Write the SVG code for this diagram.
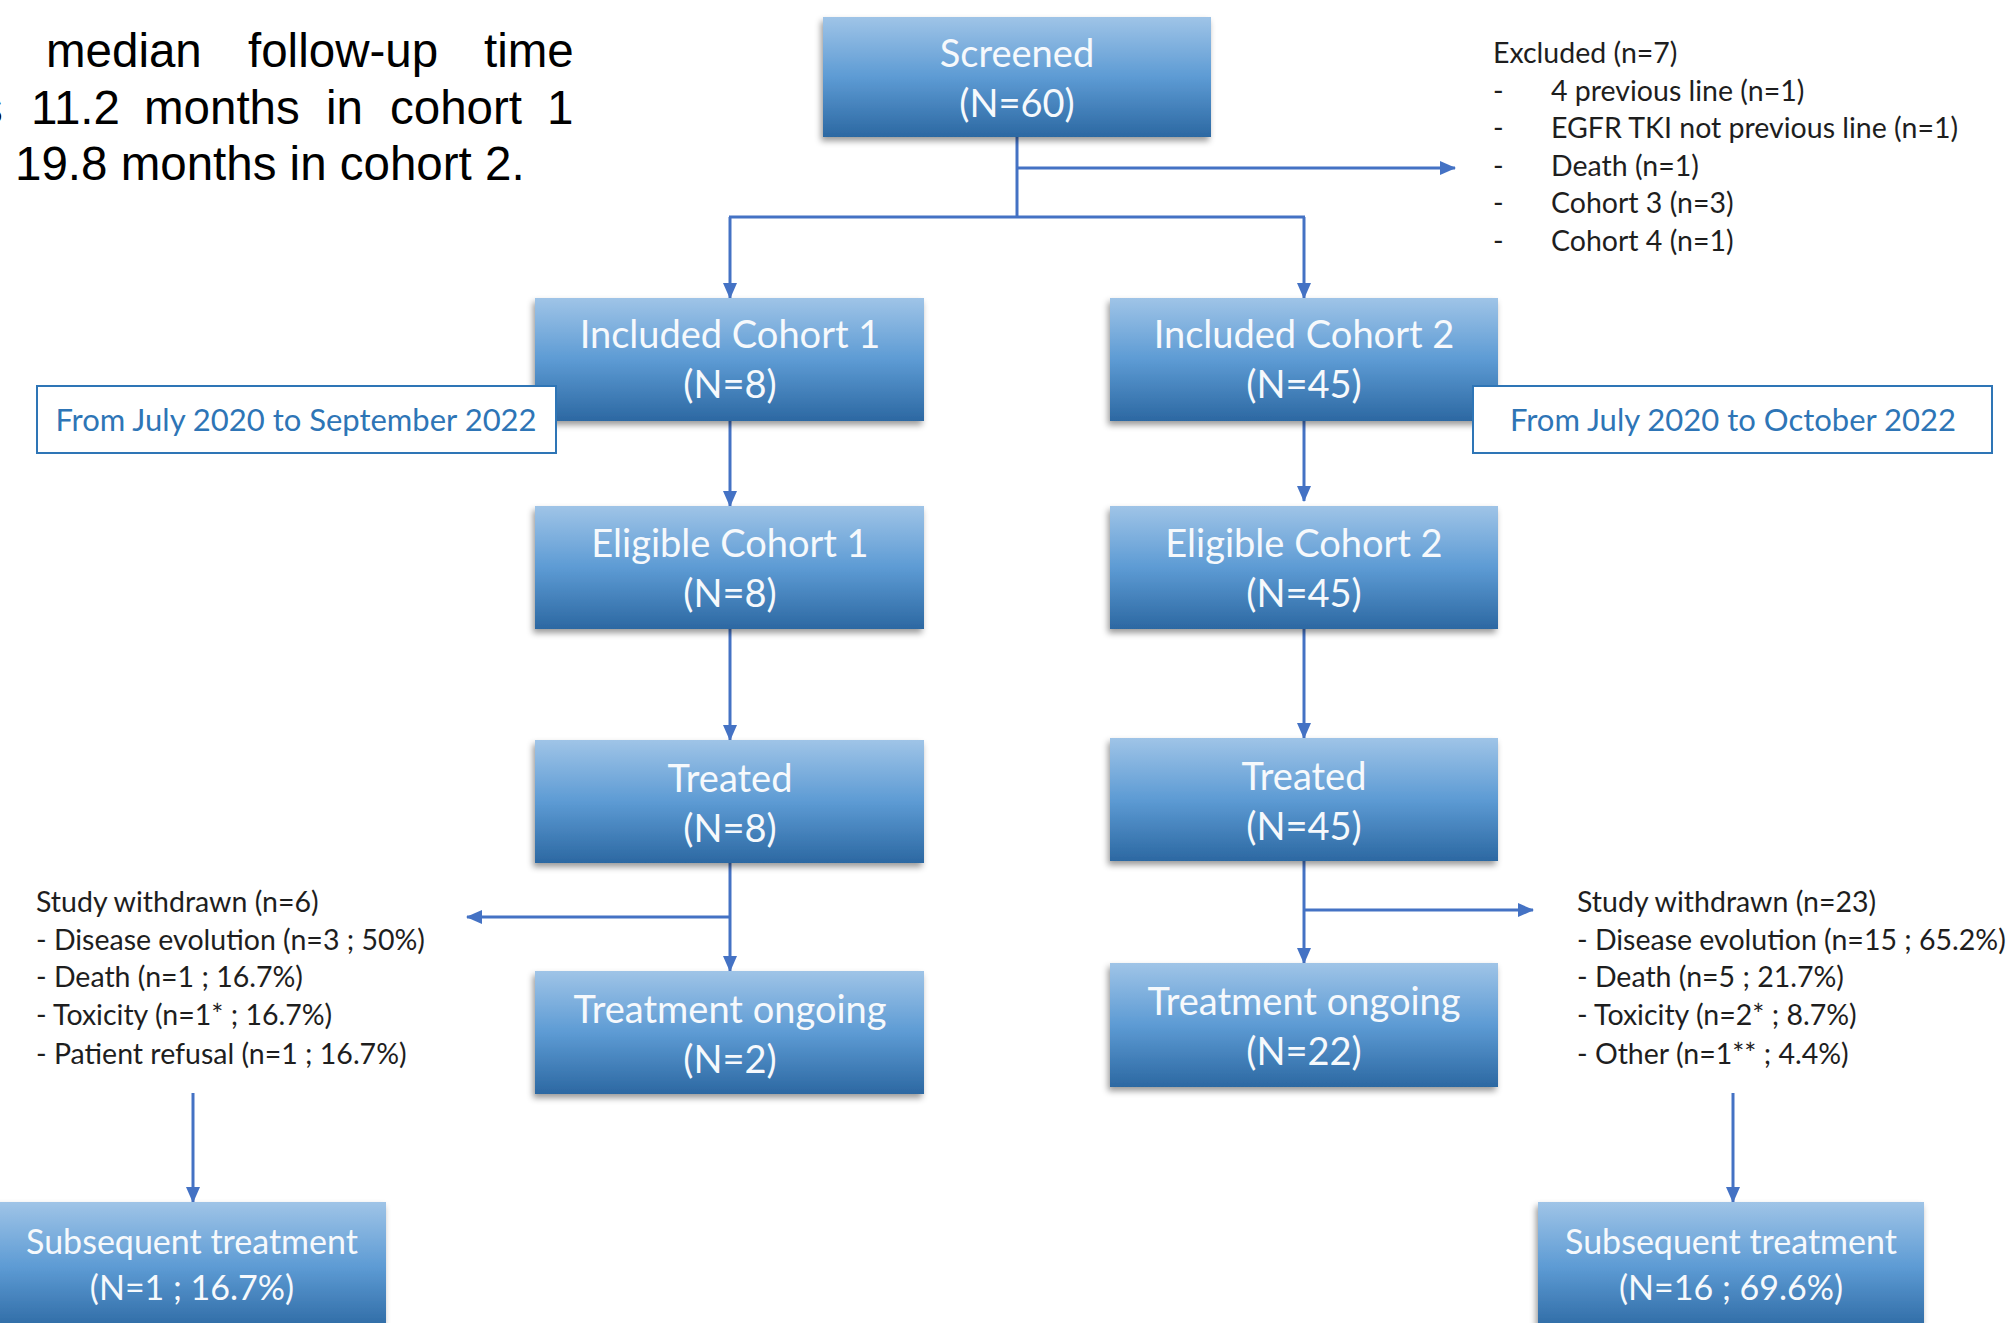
<svg xmlns="http://www.w3.org/2000/svg" width="2013" height="1323" viewBox="0 0 2013 1323">
<style>
.box{fill:url(#g);filter:url(#sh)}
.bt{font-family:Lato,"Open Sans",sans-serif;font-size:38px;fill:#f6f9fc;text-anchor:middle}
.st{font-family:Lato,"Open Sans",sans-serif;font-size:34px;fill:#f6f9fc;text-anchor:middle}
.lt{font-family:Lato,"Open Sans",sans-serif;font-size:28.5px;fill:#1e1e1e}
.dt{font-family:Lato,"Open Sans",sans-serif;font-size:31px;fill:#2e75b6;text-anchor:middle}
.db{fill:#fff;stroke:#2e75b6;stroke-width:2}
.tl{font-family:"Liberation Sans",Arial,sans-serif;font-size:47.5px;fill:#000}
.c{stroke:#4472c4;stroke-width:3;fill:none}
.a{marker-end:url(#ar)}
</style>
<defs>
<linearGradient id="g" x1="0" y1="0" x2="0" y2="1">
<stop offset="0" stop-color="#9fc4e7"/>
<stop offset="0.5" stop-color="#5d9bd4"/>
<stop offset="1" stop-color="#2c68a2"/>
</linearGradient>
<filter id="sh" x="-10%" y="-10%" width="120%" height="130%">
<feDropShadow dx="-2" dy="4" stdDeviation="3" flood-color="#000" flood-opacity="0.4"/>
</filter>
<marker id="ar" markerWidth="16" markerHeight="14" refX="15" refY="7" orient="auto" markerUnits="userSpaceOnUse">
<path d="M0,0 L16,7 L0,14 Z" fill="#4472c4"/>
</marker>
</defs>
<rect width="2013" height="1323" fill="#fff"/>

<g id="note">
<text class="tl" y="67"><tspan x="46">median</tspan><tspan x="248">follow-up</tspan><tspan x="484">time</tspan></text>
<text class="tl" y="124"><tspan x="-21">s</tspan><tspan x="31">11.2</tspan><tspan x="144">months</tspan><tspan x="326">in</tspan><tspan x="390">cohort</tspan><tspan x="547">1</tspan></text>
<text class="tl" x="15" y="180">19.8 months in cohort 2.</text>
</g>

<g id="connectors">
<line class="c" x1="1017" y1="137" x2="1017" y2="218"/>
<line class="c a" x1="1017" y1="168" x2="1455" y2="168"/>
<line class="c" x1="729" y1="217" x2="1305" y2="217"/>
<line class="c a" x1="730" y1="217" x2="730" y2="298"/>
<line class="c a" x1="1304" y1="217" x2="1304" y2="298"/>
<line class="c a" x1="730" y1="421" x2="730" y2="506"/>
<line class="c a" x1="1304" y1="421" x2="1304" y2="501"/>
<line class="c a" x1="730" y1="629" x2="730" y2="740"/>
<line class="c a" x1="1304" y1="629" x2="1304" y2="738"/>
<line class="c a" x1="730" y1="863" x2="730" y2="971"/>
<line class="c a" x1="730" y1="917" x2="467" y2="917"/>
<line class="c a" x1="1304" y1="861" x2="1304" y2="963"/>
<line class="c a" x1="1304" y1="910" x2="1533" y2="910"/>
<line class="c a" x1="193" y1="1093" x2="193" y2="1202"/>
<line class="c a" x1="1733" y1="1093" x2="1733" y2="1202"/>
</g>

<g id="screened">
<rect class="box" x="823" y="17" width="388" height="120"/>
<text class="bt" x="1017" y="67">Screened</text>
<text class="bt" x="1017" y="117">(N=60)</text>
</g>

<g id="excluded">
<text class="lt" x="1493" y="63">Excluded (n=7)</text>
<text class="lt" y="101"><tspan x="1493">-</tspan><tspan x="1551">4 previous line (n=1)</tspan></text>
<text class="lt" y="138"><tspan x="1493">-</tspan><tspan x="1551">EGFR TKI not previous line (n=1)</tspan></text>
<text class="lt" y="176"><tspan x="1493">-</tspan><tspan x="1551">Death (n=1)</tspan></text>
<text class="lt" y="213"><tspan x="1493">-</tspan><tspan x="1551">Cohort 3 (n=3)</tspan></text>
<text class="lt" y="251"><tspan x="1493">-</tspan><tspan x="1551">Cohort 4 (n=1)</tspan></text>
</g>

<g id="included1">
<rect class="box" x="535" y="298" width="389" height="123"/>
<text class="bt" x="730" y="348">Included Cohort 1</text>
<text class="bt" x="730" y="398">(N=8)</text>
</g>

<g id="included2">
<rect class="box" x="1110" y="298" width="388" height="123"/>
<text class="bt" x="1304" y="348">Included Cohort 2</text>
<text class="bt" x="1304" y="398">(N=45)</text>
</g>

<g id="dates1">
<rect class="db" x="37" y="386" width="519" height="67"/>
<text class="dt" x="296" y="431">From July 2020 to September 2022</text>
</g>

<g id="dates2">
<rect class="db" x="1473" y="386" width="519" height="67"/>
<text class="dt" x="1733" y="431">From July 2020 to October 2022</text>
</g>

<g id="eligible1">
<rect class="box" x="535" y="506" width="389" height="123"/>
<text class="bt" x="730" y="557">Eligible Cohort 1</text>
<text class="bt" x="730" y="607">(N=8)</text>
</g>

<g id="eligible2">
<rect class="box" x="1110" y="506" width="388" height="123"/>
<text class="bt" x="1304" y="557">Eligible Cohort 2</text>
<text class="bt" x="1304" y="607">(N=45)</text>
</g>

<g id="treated1">
<rect class="box" x="535" y="740" width="389" height="123"/>
<text class="bt" x="730" y="792">Treated</text>
<text class="bt" x="730" y="842">(N=8)</text>
</g>

<g id="treated2">
<rect class="box" x="1110" y="738" width="388" height="123"/>
<text class="bt" x="1304" y="790">Treated</text>
<text class="bt" x="1304" y="840">(N=45)</text>
</g>

<g id="withdrawn1">
<text class="lt" x="36" y="912">Study withdrawn (n=6)</text>
<text class="lt" x="36" y="950">- Disease evolution (n=3 ; 50%)</text>
<text class="lt" x="36" y="987">- Death (n=1 ; 16.7%)</text>
<text class="lt" x="36" y="1025">- Toxicity (n=1* ; 16.7%)</text>
<text class="lt" x="36" y="1064">- Patient refusal (n=1 ; 16.7%)</text>
</g>

<g id="withdrawn2">
<text class="lt" x="1577" y="912">Study withdrawn (n=23)</text>
<text class="lt" x="1577" y="950">- Disease evolution (n=15 ; 65.2%)</text>
<text class="lt" x="1577" y="987">- Death (n=5 ; 21.7%)</text>
<text class="lt" x="1577" y="1025">- Toxicity (n=2* ; 8.7%)</text>
<text class="lt" x="1577" y="1064">- Other (n=1** ; 4.4%)</text>
</g>

<g id="ongoing1">
<rect class="box" x="535" y="971" width="389" height="123"/>
<text class="bt" x="730" y="1023">Treatment ongoing</text>
<text class="bt" x="730" y="1073">(N=2)</text>
</g>

<g id="ongoing2">
<rect class="box" x="1110" y="963" width="388" height="124"/>
<text class="bt" x="1304" y="1015">Treatment ongoing</text>
<text class="bt" x="1304" y="1065">(N=22)</text>
</g>

<g id="subsequent1">
<rect class="box" x="-5" y="1202" width="391" height="130"/>
<text class="st" x="192" y="1254">Subsequent treatment</text>
<text class="st" x="192" y="1300">(N=1 ; 16.7%)</text>
</g>

<g id="subsequent2">
<rect class="box" x="1538" y="1202" width="386" height="130"/>
<text class="st" x="1731" y="1254">Subsequent treatment</text>
<text class="st" x="1731" y="1300">(N=16 ; 69.6%)</text>
</g>
</svg>
